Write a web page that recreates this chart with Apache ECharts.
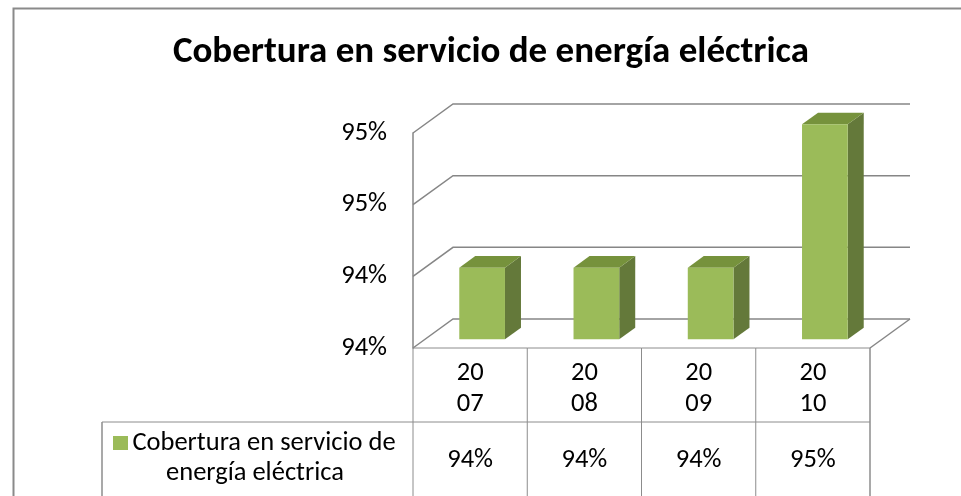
<!DOCTYPE html>
<html>
<head>
<meta charset="utf-8">
<script src="https://cdn.jsdelivr.net/npm/echarts@6/dist/echarts.min.js"></script>
<style>
  html, body { margin: 0; padding: 0; background: #ffffff; }
  #chart { width: 961px; height: 496px; }
</style>
</head>
<body>
<div id="chart"></div>
<script>
// Coverage of electric power service, by year
const years = ['2007', '2008', '2009', '2010'];
const coverage = [94.2, 94.2, 94.2, 95.0];
const seriesName = 'Cobertura en servicio de energía eléctrica';
const titleText = 'Cobertura en servicio de energía eléctrica';

// value axis: ticks counted from the axis minimum
const axisMin = 93.8;
const axisMax = 95.0;
const axisStep = 0.4;
const axisTicks = [93.8, 94.2, 94.6, 95.0];

const FONT = 'Carlito, Lato, "Open Sans", sans-serif';
const TEXT_SIZE = 26.5;
const DEPTH = [40, -29];          // pseudo-3D depth offset of the walls
const GRID_COLOR = '#868686';
const TABLE_COLOR = '#8c8c8c';
const FRONT = '#9BBB59';
const TOP = '#76923C';
const SIDE = '#64793A';
const ROW_H = 74;                 // height of the year row in the data table

const pct = v => Math.round(v) + '%';

// back wall, side wall and floor lines, one polyline per tick
function renderWalls(params, api) {
  const cs = params.coordSys;
  const y = api.coord([0, api.value(1)])[1];
  const x0 = cs.x, x1 = cs.x + cs.width;
  const children = [{
    type: 'polyline',
    shape: { points: [[x0, y], [x0 + DEPTH[0], y + DEPTH[1]], [x1 + DEPTH[0], y + DEPTH[1]]] },
    style: { stroke: GRID_COLOR, lineWidth: 1.5, fill: null }
  }];
  if (params.dataIndex === 0) {
    children.push({
      type: 'line',
      shape: { x1: x1, y1: y, x2: x1 + DEPTH[0], y2: y + DEPTH[1] },
      style: { stroke: GRID_COLOR, lineWidth: 1.5 }
    });
  }
  return { type: 'group', children };
}

// 3D column: side, top and front faces
function renderBar(params, api) {
  const i = api.value(0), v = api.value(1);
  const base = api.coord([i, axisMin]);
  const yTop = api.coord([i, v])[1];
  const slot = api.size([1, 0])[0];
  const w = slot * 0.4;
  const ox = DEPTH[0] * 0.3, oy = DEPTH[1] * 0.3;
  const dx = DEPTH[0] * 0.4, dy = DEPTH[1] * 0.4;
  const l = base[0] - w / 2 + ox, r = base[0] + w / 2 + ox;
  const t = yTop + oy, b = base[1] + oy;
  return {
    type: 'group',
    children: [
      { type: 'polygon', shape: { points: [[r, t], [r + dx, t + dy], [r + dx, b + dy], [r, b]] }, style: { fill: SIDE } },
      { type: 'polygon', shape: { points: [[l, t], [l + dx, t + dy], [r + dx, t + dy], [r, t]] }, style: { fill: TOP } },
      { type: 'rect', shape: { x: l, y: t, width: r - l, height: b - t }, style: { fill: FRONT } }
    ]
  };
}

// data table cells under each category
function renderTable(params, api) {
  const i = api.value(0), v = api.value(1);
  const base = api.coord([i, axisMin]);
  const slot = api.size([1, 0])[0];
  const l = base[0] - slot / 2, r = base[0] + slot / 2;
  const y0 = base[1], y1 = y0 + ROW_H, yEnd = 600;
  const st = { stroke: TABLE_COLOR, lineWidth: 1 };
  const children = [
    { type: 'line', shape: { x1: l, y1: y0, x2: r, y2: y0 }, style: st },
    { type: 'line', shape: { x1: l, y1: y0, x2: l, y2: yEnd }, style: st },
    { type: 'line', shape: { x1: l, y1: y1, x2: r, y2: y1 }, style: st },
    {
      type: 'text',
      style: {
        x: base[0], y: y1 + 38, text: pct(v), align: 'center', verticalAlign: 'middle',
        font: TEXT_SIZE + 'px ' + FONT, fill: '#000000'
      }
    }
  ];
  if (i === years.length - 1) {
    children.push({ type: 'line', shape: { x1: r, y1: y0, x2: r, y2: yEnd }, style: { stroke: TABLE_COLOR, lineWidth: 1.5 } });
  }
  return { type: 'group', children };
}

const chart = echarts.init(document.getElementById('chart'), null, { renderer: 'canvas' });

chart.setOption({
  animation: false,
  backgroundColor: '#ffffff',
  grid: { left: 413, right: 91, top: 133, bottom: 148 },
  xAxis: {
    type: 'category',
    data: years,
    axisLine: { show: false },
    axisTick: { show: false },
    axisLabel: {
      margin: 10,
      fontFamily: FONT,
      fontSize: TEXT_SIZE,
      lineHeight: 31,
      color: '#000000',
      formatter: v => v.slice(0, 2) + '\n' + v.slice(2)
    }
  },
  yAxis: {
    type: 'value',
    min: axisMin,
    max: axisMax,
    interval: axisStep,
    axisLine: { show: true, lineStyle: { color: GRID_COLOR, width: 1.5 } },
    axisTick: { show: false },
    splitLine: { show: false },
    axisLabel: {
      margin: 26,
      fontFamily: FONT,
      fontSize: TEXT_SIZE,
      color: '#000000',
      formatter: pct
    }
  },
  series: [
    {
      type: 'custom',
      name: 'walls',
      clip: false,
      z: 1,
      silent: true,
      renderItem: renderWalls,
      data: axisTicks.map(t => [0, t])
    },
    {
      type: 'custom',
      name: seriesName,
      clip: false,
      z: 3,
      renderItem: renderBar,
      data: coverage.map((v, i) => [i, v])
    },
    {
      type: 'custom',
      name: 'table',
      clip: false,
      z: 2,
      silent: true,
      renderItem: renderTable,
      data: coverage.map((v, i) => [i, v])
    }
  ],
  graphic: [
    {
      type: 'rect', left: 11, top: 6, silent: true,
      shape: { width: 1000, height: 600 },
      style: { fill: null, stroke: '#8a8a8a', lineWidth: 2 }
    },
    {
      type: 'text', silent: true,
      style: {
        x: 491, y: 53, text: titleText, align: 'center', verticalAlign: 'middle',
        font: 'bold 37px ' + FONT, fill: '#000000'
      }
    },
    // legend cell of the data table
    { type: 'line', silent: true, shape: { x1: 102, y1: 422, x2: 413, y2: 422 }, style: { stroke: TABLE_COLOR, lineWidth: 1 } },
    { type: 'line', silent: true, shape: { x1: 102, y1: 422, x2: 102, y2: 600 }, style: { stroke: TABLE_COLOR, lineWidth: 1.5 } },
    { type: 'rect', silent: true, shape: { x: 113, y: 436, width: 15, height: 14 }, style: { fill: FRONT } },
    {
      type: 'text', silent: true,
      style: { x: 264, y: 443, text: 'Cobertura en servicio de', align: 'center', verticalAlign: 'middle', font: TEXT_SIZE + 'px ' + FONT, fill: '#000000' }
    },
    {
      type: 'text', silent: true,
      style: { x: 255, y: 473, text: 'energía eléctrica', align: 'center', verticalAlign: 'middle', font: TEXT_SIZE + 'px ' + FONT, fill: '#000000' }
    }
  ]
});
</script>
</body>
</html>
